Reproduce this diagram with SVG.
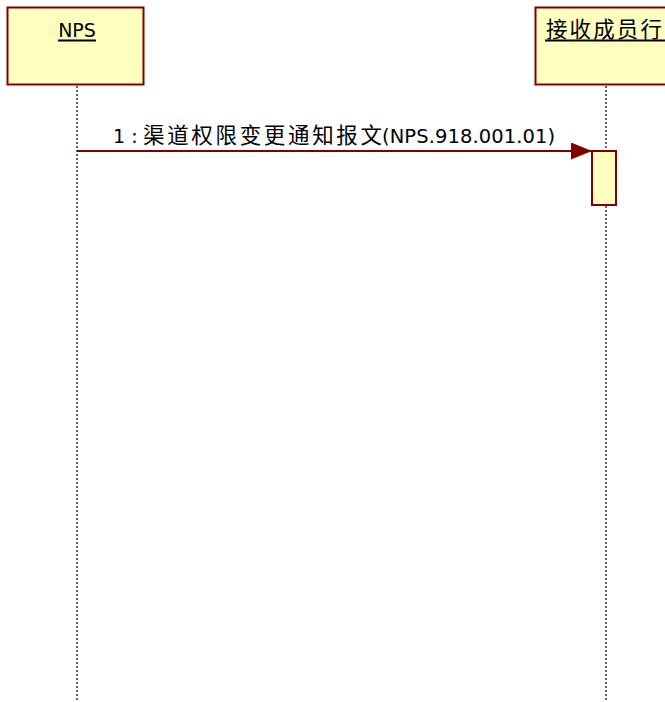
<svg xmlns="http://www.w3.org/2000/svg" width="665" height="702" viewBox="0 0 665 702">
<style>
.obj{fill:#ffffc0;stroke:#800000;stroke-width:2}
.life{stroke:#000;stroke-width:1.2;stroke-dasharray:2,2;fill:none}
.lat{font-family:"DejaVu Sans",Verdana,sans-serif;fill:#000}
.cjk{font-family:"Noto Sans CJK SC","Noto Sans",sans-serif;fill:#000}
.ul{stroke:#000;stroke-width:2}
</style>
<defs>
<marker id="ah" markerUnits="userSpaceOnUse" markerWidth="22" markerHeight="18" refX="21" refY="8.5" orient="auto">
<path d="M0,0 L21,8.5 L0,17 Z" fill="#800000"/>
</marker>
</defs>
<rect width="665" height="702" fill="#fff"/>
<g id="connectors">
<line class="life" x1="77" y1="86" x2="77" y2="702"/>
<line class="life" x1="606" y1="86" x2="606" y2="702"/>
<line x1="77" y1="151" x2="592" y2="151" stroke="#800000" stroke-width="2" marker-end="url(#ah)"/>
<text y="143" font-size="19"><tspan class="lat" x="113">1 : </tspan><tspan class="cjk" x="143" font-size="21.5" textLength="239" lengthAdjust="spacing">渠道权限变更通知报文</tspan><tspan class="lat" x="382" font-size="19.5" textLength="173" lengthAdjust="spacing">(NPS.918.001.01)</tspan></text>
</g>
<g id="nps">
<rect class="obj" x="7.5" y="7.5" width="136" height="77"/>
<text class="lat" x="77" y="37" font-size="19" text-anchor="middle">NPS</text>
<line class="ul" x1="58" y1="40.5" x2="96" y2="40.5"/>
</g>
<g id="receiver">
<rect class="obj" x="535.5" y="7.5" width="136" height="77"/>
<text class="cjk" x="546" y="37" font-size="21.5" textLength="116" lengthAdjust="spacing">接收成员行</text>
<line class="ul" x1="545" y1="40.5" x2="665" y2="40.5"/>
</g>
<g id="activation">
<rect class="obj" x="592" y="151" width="24" height="54"/>
</g>
</svg>
